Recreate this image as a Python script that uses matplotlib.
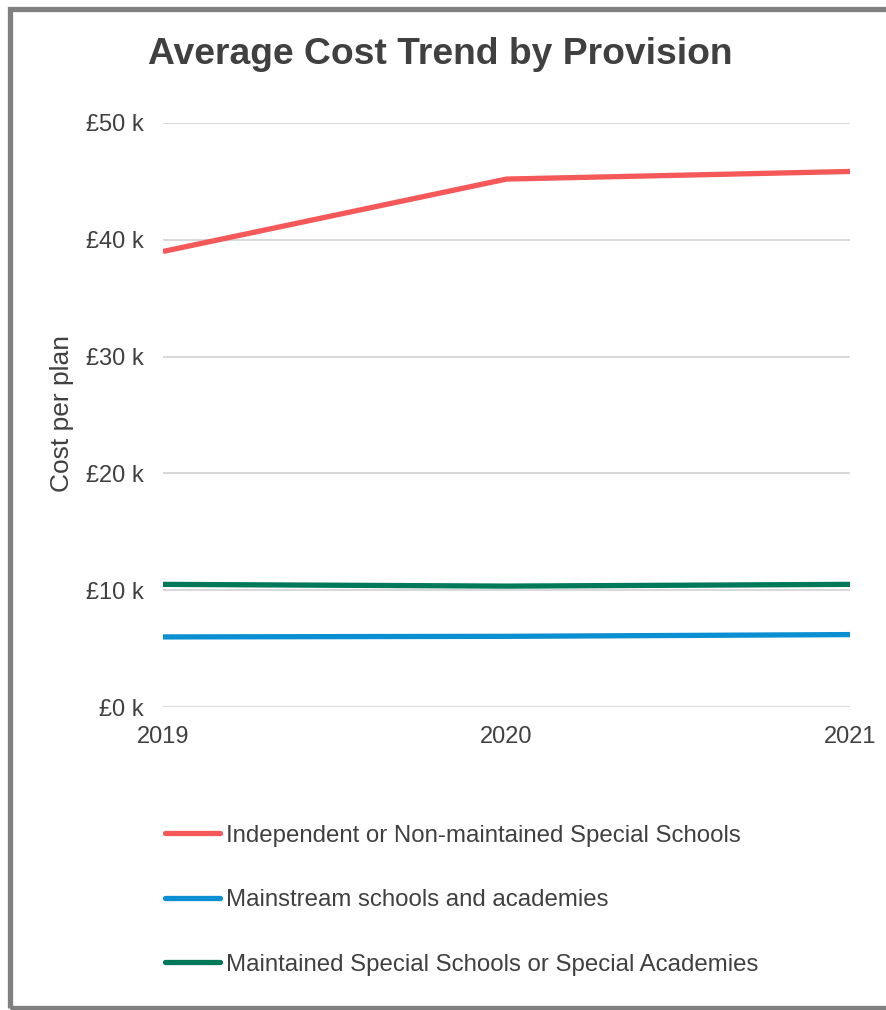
import matplotlib
matplotlib.use("Agg")
import matplotlib.pyplot as plt
from matplotlib.patches import Rectangle
from matplotlib.ticker import FuncFormatter

plt.rcParams["font.family"] = ["Liberation Sans", "DejaVu Sans"]

# ---------- data ----------
years = [2019, 2020, 2021]
independent = [39000, 45200, 45850]
mainstream = [6000, 6050, 6200]
maintained = [10500, 10350, 10500]

series_names = [
    "Independent or Non-maintained Special Schools",
    "Mainstream schools and academies",
    "Maintained Special Schools or Special Academies",
]
series_colors = ["#F45858", "#0A8FD3", "#00785A"]

TEXT = "#404040"

W, H = 887, 1010
fig = plt.figure(figsize=(W / 100, H / 100), dpi=100)

ax = fig.add_axes([163 / W, 1 - 707 / H, (850 - 163) / W, (707 - 123) / H])
lines = []
for vals, name, col in zip([independent, mainstream, maintained], series_names, series_colors):
    (ln,) = ax.plot(years, vals, color=col, lw=3.8, label=name, solid_capstyle="butt")
    lines.append(ln)

ax.set_xlim(2019, 2021)
ax.set_ylim(0, 50000)
ax.set_xticks(years)
ax.set_yticks(range(0, 50001, 10000))
ax.yaxis.set_major_formatter(FuncFormatter(lambda v, p: f"£{int(v / 1000)} k"))
ax.grid(axis="y", color="#D9D9D9", lw=1.5)
ax.set_axisbelow(True)
for s in ax.spines.values():
    s.set_visible(False)
ax.tick_params(length=0, labelsize=17, labelcolor=TEXT)
ax.tick_params(axis="y", pad=14)
ax.tick_params(axis="x", pad=14)

fig.text(62 / W, 1 - 414 / H, "Cost per plan", rotation=90, fontsize=19,
         color=TEXT, ha="center", va="center")
fig.text(440 / W, 1 - 55 / H, "Average Cost Trend by Provision", fontsize=26.8,
         fontweight="bold", color=TEXT, ha="center", va="center")

leg = fig.legend(handles=lines, loc="upper left", bbox_to_anchor=(143 / W, 1 - 803 / H),
                 frameon=False, fontsize=17.3, handlelength=2.3, handletextpad=0.25,
                 labelspacing=1.77)
for t in leg.get_texts():
    t.set_color(TEXT)
for h in leg.legend_handles:
    h.set_solid_capstyle("round")

# outer frame
fig.patches.append(Rectangle((10.5 / W, 2 / H), 1.0, 1 - 10.5 / H, transform=fig.transFigure,
                             fill=False, edgecolor="#808080", lw=3.8))

fig.savefig("out.png", dpi=100)
